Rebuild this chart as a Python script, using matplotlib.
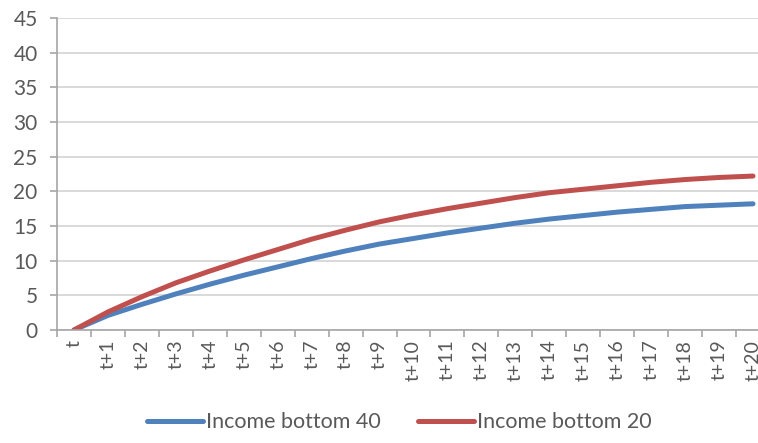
"""
Income growth of the bottom 40 and bottom 20 over 20 periods
"""
import matplotlib
matplotlib.use("Agg")
from matplotlib import pyplot
from matplotlib.ticker import MultipleLocator, FixedLocator

periods = ["t"] + [f"t+{i}" for i in range(1, 21)]
bottom40 = [0, 2.1, 3.7, 5.2, 6.6, 7.9, 9.1, 10.3, 11.4, 12.4, 13.2,
            14.0, 14.7, 15.4, 16.0, 16.5, 17.0, 17.4, 17.8, 18.0, 18.2]
bottom20 = [0, 2.6, 4.8, 6.8, 8.5, 10.1, 11.6, 13.1, 14.4, 15.6, 16.6,
            17.5, 18.3, 19.1, 19.8, 20.3, 20.8, 21.3, 21.7, 22.0, 22.2]

TEXT = "#595959"
AXIS = "#A6A6A6"
GRID = "#D9D9D9"

pyplot.rcParams["font.family"] = ["Lato", "DejaVu Sans"]

fig = pyplot.figure(figsize=(7.58, 4.43), dpi=100)
ax = fig.add_axes([0.0752, 0.2551, 0.9406, 0.7043])

xs = list(range(len(periods)))
ax.plot(xs, bottom40, color="#4F81BD", lw=3.6, solid_capstyle="round",
        solid_joinstyle="round", label="Income bottom 40")
ax.plot(xs, bottom20, color="#C0504D", lw=3.6, solid_capstyle="round",
        solid_joinstyle="round", label="Income bottom 20")

ax.set_ylim(0, 45)
ax.set_xlim(-0.5, len(periods) - 0.5)
ax.yaxis.set_major_locator(MultipleLocator(5))
ax.set_xticks(xs)
ax.set_xticklabels(periods, rotation=90)
ax.xaxis.set_minor_locator(FixedLocator([x - 0.5 for x in xs] + [len(xs) - 0.5]))

ax.grid(axis="y", color=GRID, lw=1.4)
ax.set_axisbelow(True)
for side in ("top", "right"):
    ax.spines[side].set_visible(False)
for side in ("left", "bottom"):
    ax.spines[side].set_color(AXIS)
    ax.spines[side].set_linewidth(1.2)

ax.tick_params(axis="y", length=5, color=AXIS, width=1.2,
               labelsize=15, labelcolor=TEXT, pad=9)
ax.tick_params(axis="x", which="major", length=0, labelsize=14,
               labelcolor=TEXT, pad=7)
ax.tick_params(axis="x", which="minor", length=5, color=AXIS, width=1.2)

fig.legend(loc="lower center", bbox_to_anchor=(0.527, -0.02), ncol=2,
           frameon=False, fontsize=15.5, labelcolor=TEXT, handlelength=2.6,
           handletextpad=0.15, columnspacing=1.7)

fig.savefig("out.png", dpi=100)
pyplot.close(fig)
